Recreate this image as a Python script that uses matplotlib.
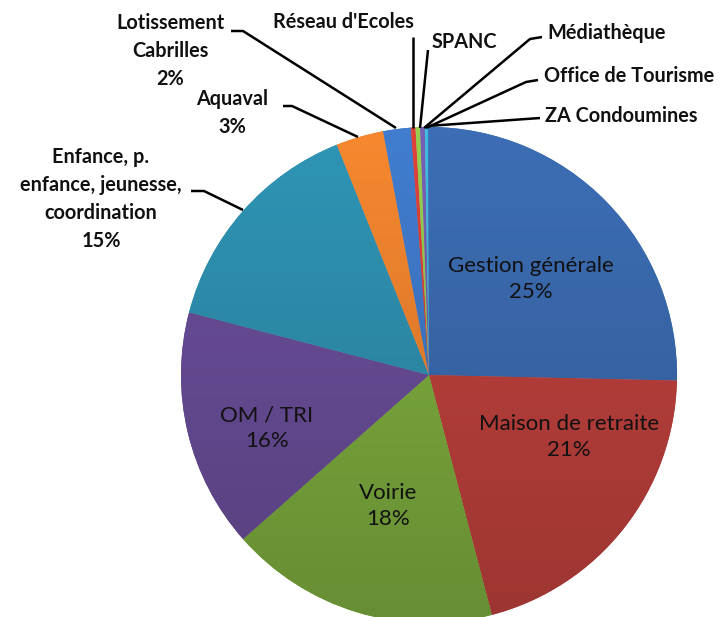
import matplotlib
matplotlib.use("Agg")
import matplotlib.pyplot as plt
import matplotlib.colors as mcolors
import numpy as np

# slices, clockwise from 12 o'clock
labels = ["Gestion générale", "Maison de retraite", "Voirie", "OM / TRI",
          "Enfance, p.\nenfance, jeunesse,\ncoordination", "Aquaval",
          "Lotissement\nCabrilles", "Réseau d'Ecoles", "SPANC", "Médiathèque",
          "Office de Tourisme", "ZA Condoumines"]
pct_labels = ["25%", "21%", "18%", "16%", "15%", "3%", "2%",
              "", "", "", "", ""]
values = [25.4, 20.6, 17.6, 15.6, 14.9, 3.1, 1.8, 0.3, 0.3, 0.3, 0.2, 0.07]
colors = ["#3866a8", "#b63e3a", "#78a53c", "#654a92", "#2c8aa8", "#e57e2c",
          "#3c74c0", "#d03c36", "#8cc04a", "#6f5aa8", "#3ab0d0", "#3a6cb0"]

W, H = 724, 617
fig = plt.figure(figsize=(W / 100, H / 100), dpi=100)
ax = fig.add_axes([0, 0, 1, 1])

cx, cy, r = 429, H - 375, 248
wedges, _ = ax.pie(values, colors=colors, startangle=90, counterclock=False,
                   center=(cx, cy), radius=r, frame=True,
                   wedgeprops=dict(linewidth=0))

# vertical shading over each wedge: lighter at the top, darker at the bottom
t = np.linspace(0, 1, 256)[:, None]
for w, c in zip(wedges, colors):
    base = np.array(mcolors.to_rgb(c))
    shade = 1.08 - 0.22 * t
    img = np.clip(base[None, None, :] * shade[:, :, None], 0, 1)
    img = np.repeat(img, 2, axis=1)
    im = ax.imshow(img, extent=(cx - r, cx + r, cy - r, cy + r),
                   origin="upper", aspect="auto", zorder=w.get_zorder() + 0.1)
    im.set_clip_path(w)

ax.set_xlim(0, W)
ax.set_ylim(0, H)
ax.set_aspect("equal")
ax.axis("off")

font = "Lato"


def y(v):
    return H - v


# labels inside the pie
inside = [(0, 531, 279), (1, 569, 437), (2, 388, 506), (3, 267, 428)]
for i, x0, y0 in inside:
    ax.text(x0, y(y0), f"{labels[i]}\n{pct_labels[i]}", ha="center",
            va="center", fontsize=16, family=font, color="#111111",
            linespacing=1.35, zorder=5)

# outside labels with leader lines: text pos, line points (image px)
outside = [
    (4, 101, 199, "center", [(191, 191), (204, 191), (243, 210)]),
    (5, 232, 113, "center", [(283, 106), (292, 106), (358, 137)]),
    (6, 170, 51, "center", [(231, 31), (243, 31), (396, 128)]),
    (7, 343, 22, "center", [(413, 37), (413, 128)]),
    (8, 432, 42, "left", [(428, 50), (420, 128)]),
    (9, 547, 33, "left", [(542, 37), (530, 39), (424, 128)]),
    (10, 544, 76, "left", [(538, 80), (526, 82), (426, 128)]),
    (11, 545, 116, "left", [(540, 118), (428, 126)]),
]
for i, x0, y0, ha, pts in outside:
    txt = labels[i]
    if pct_labels[i]:
        txt += "\n" + pct_labels[i]
    ax.text(x0, y(y0), txt, ha=ha, va="center", fontsize=14.3, family=font,
            fontweight="bold", color="#111111", linespacing=1.5, zorder=5)
    ax.plot([p[0] for p in pts], [y(p[1]) for p in pts], color="black",
            linewidth=1.8, solid_capstyle="butt", zorder=5)

fig.savefig("out.png", dpi=100)
